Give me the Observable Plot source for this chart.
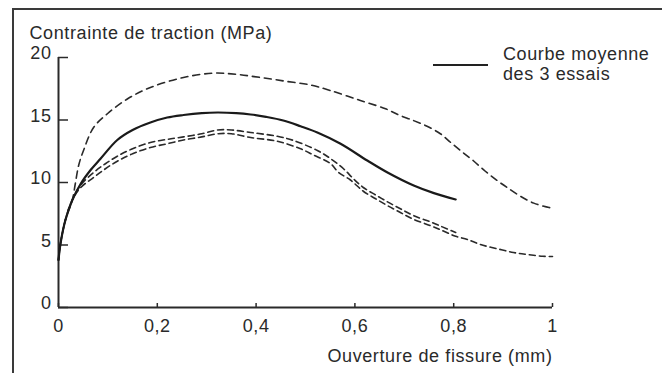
<!DOCTYPE html>
<html>
<head>
<meta charset="utf-8">
<script src="https://cdn.jsdelivr.net/npm/d3@7"></script>
<script src="https://cdn.jsdelivr.net/npm/@observablehq/plot@0.6"></script>
<style>
  body { margin: 0; background: #fff; }
  #wrap { position: relative; width: 662px; height: 373px; background: #fff; overflow: hidden; }
  #frame { position: absolute; left: 12px; top: 8px; right: -4px; bottom: -4px;
           border-top: 2px solid #3a3a3a; border-left: 2.5px solid #3a3a3a; }
  #chart { position: absolute; left: 0; top: 0; }
  #chart svg text { letter-spacing: 0.6px; }
  #legend { position: absolute; left: 433px; top: 44px; font-family: "Liberation Sans", Arial, sans-serif;
            font-size: 18px; color: #2a2a2a; letter-spacing: 0.6px; }
  #legend .sw { position: absolute; left: 0; top: 20px; width: 55px; border-top: 2.5px solid #222; }
  #legend .lbl { position: absolute; left: 70px; top: 0; line-height: 20px; white-space: nowrap; }
</style>
</head>
<body>
<div id="wrap">
  <div id="frame"></div>
  <div id="chart"></div>
  <div id="legend"><div class="sw"></div><div class="lbl"></div></div>
</div>
<script>
// ---- data ----
const xTicks = [0, 0.2, 0.4, 0.6, 0.8, 1];
const xTickLabels = ["0", "0,2", "0,4", "0,6", "0,8", "1"];
const yTicks = [0, 5, 10, 15, 20];

const yTitle = "Contrainte de traction (MPa)";
const xTitle = "Ouverture de fissure (mm)";
const legendLines = ["Courbe moyenne", "des 3 essais"];

// mean curve (solid)
const meanX = [0, 0.004, 0.014, 0.028, 0.045, 0.065, 0.085, 0.119, 0.15, 0.186, 0.22, 0.253, 0.29, 0.322, 0.36, 0.389, 0.42, 0.455, 0.49, 0.524, 0.571, 0.625, 0.666, 0.719, 0.76, 0.804];
const meanY = [3.8, 5.1, 7.0, 8.6, 9.9, 11.0, 11.9, 13.4, 14.2, 14.8, 15.2, 15.4, 15.55, 15.6, 15.55, 15.44, 15.25, 14.96, 14.5, 14.0, 13.1, 11.76, 10.8, 9.76, 9.15, 8.64];

// test 1 (upper dashed)
const essai1X = [0, 0.004, 0.014, 0.028, 0.034, 0.041, 0.051, 0.071, 0.099, 0.14, 0.186, 0.253, 0.314, 0.36, 0.409, 0.46, 0.51, 0.55, 0.611, 0.662, 0.689, 0.719, 0.746, 0.773, 0.794, 0.817, 0.841, 0.864, 0.888, 0.908, 0.935, 0.962, 0.993, 1.0];
const essai1Y = [3.8, 5.1, 7.0, 8.6, 9.9, 11.4, 12.6, 14.4, 15.5, 16.7, 17.6, 18.4, 18.75, 18.65, 18.4, 18.1, 17.8, 17.36, 16.56, 15.9, 15.4, 14.95, 14.5, 13.9, 13.2, 12.45, 11.7, 10.9, 10.16, 9.6, 8.9, 8.35, 8.0, 7.98];

// test 2 (dashed, ends at 0.8)
const essai2X = [0, 0.004, 0.014, 0.028, 0.045, 0.071, 0.095, 0.119, 0.15, 0.186, 0.22, 0.253, 0.29, 0.322, 0.35, 0.389, 0.443, 0.476, 0.524, 0.551, 0.577, 0.597, 0.617, 0.642, 0.666, 0.692, 0.719, 0.753, 0.777, 0.804];
const essai2Y = [3.8, 5.1, 7.0, 8.6, 9.8, 10.8, 11.5, 12.1, 12.7, 13.2, 13.45, 13.65, 13.9, 14.2, 14.2, 14.0, 13.7, 13.36, 12.56, 11.9, 11.1, 10.3, 9.6, 9.0, 8.45, 7.9, 7.35, 6.85, 6.45, 6.0];

// test 3 (dashed, continues to 1)
const essai3X = [0, 0.004, 0.014, 0.028, 0.045, 0.071, 0.095, 0.119, 0.15, 0.186, 0.22, 0.253, 0.29, 0.322, 0.35, 0.389, 0.443, 0.49, 0.516, 0.551, 0.567, 0.591, 0.617, 0.642, 0.666, 0.692, 0.719, 0.753, 0.777, 0.804, 0.828, 0.854, 0.888, 0.921, 0.949, 0.98, 1.0];
const essai3Y = [3.8, 5.1, 7.0, 8.6, 9.6, 10.4, 11.1, 11.7, 12.3, 12.8, 13.1, 13.4, 13.65, 13.9, 13.9, 13.6, 13.3, 12.7, 12.2, 11.5, 10.8, 10.2, 9.3, 8.7, 8.15, 7.6, 7.05, 6.55, 6.15, 5.7, 5.44, 5.04, 4.7, 4.4, 4.24, 4.1, 4.08];

const toPts = (xs, ys) => xs.map((x, i) => ({x, y: ys[i]}));

const font = "'Liberation Sans', Arial, sans-serif";
const chart = Plot.plot({
  width: 662,
  height: 373,
  marginLeft: 58,
  marginRight: 110,
  marginTop: 57,
  marginBottom: 66,
  style: {fontFamily: font, fontSize: "18px", color: "#2a2a2a", background: "transparent"},
  x: {domain: [0, 1]},
  y: {domain: [0, 20]},
  marks: [
    // axis lines
    Plot.ruleX([0], {y1: 0, y2: 20, stroke: "#2a2a2a", strokeWidth: 2}),
    Plot.ruleY([0], {x1: 0, x2: 1, stroke: "#2a2a2a", strokeWidth: 2}),
    // inward ticks
    Plot.axisY(yTicks, {tickSize: -10, text: null, label: null, stroke: "#2a2a2a", strokeWidth: 1.5}),
    Plot.axisX(xTicks, {tickSize: -4, text: null, label: null, stroke: "#2a2a2a", strokeWidth: 1.5}),
    // tick labels
    Plot.axisY(yTicks, {tickSize: 0, tickPadding: 7, dy: -4, fontSize: 18, label: null, fill: "#2a2a2a"}),
    Plot.axisX(xTicks, {tickSize: 0, tickPadding: 12, fontSize: 18, label: null, fill: "#2a2a2a",
      tickFormat: d => xTickLabels[xTicks.indexOf(d)]}),
    // titles
    Plot.text([yTitle], {frameAnchor: "top-left", dx: -29, dy: -24, textAnchor: "start", lineAnchor: "middle", fontSize: 18, fill: "#2a2a2a"}),
    Plot.text([xTitle], {frameAnchor: "bottom-right", dx: 0, dy: 49, textAnchor: "end", lineAnchor: "middle", fontSize: 18, fill: "#2a2a2a"}),
    // curves
    Plot.line(toPts(essai1X, essai1Y), {x: "x", y: "y", curve: "catmull-rom", stroke: "#2a2a2a", strokeWidth: 1.6, strokeDasharray: "7,5"}),
    Plot.line(toPts(essai2X, essai2Y), {x: "x", y: "y", curve: "catmull-rom", stroke: "#2a2a2a", strokeWidth: 1.6, strokeDasharray: "6,4"}),
    Plot.line(toPts(essai3X, essai3Y), {x: "x", y: "y", curve: "catmull-rom", stroke: "#2a2a2a", strokeWidth: 1.6, strokeDasharray: "6,4", strokeDashoffset: 3}),
    Plot.line(toPts(meanX, meanY), {x: "x", y: "y", curve: "catmull-rom", stroke: "#1a1a1a", strokeWidth: 2.2})
  ]
});
document.getElementById("chart").appendChild(chart);
document.querySelector("#legend .lbl").innerHTML = legendLines.join("<br>");
</script>
</body>
</html>
